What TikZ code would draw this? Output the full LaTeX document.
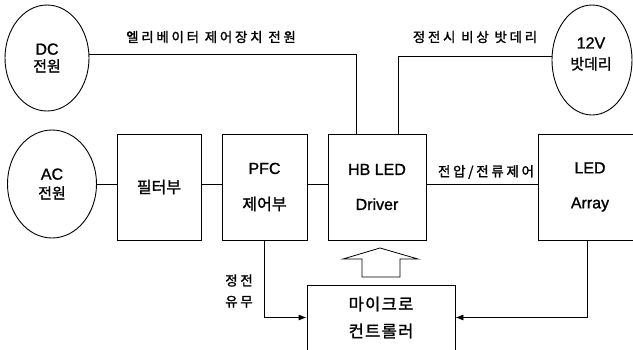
\documentclass[tikz,border=0pt]{standalone}
\usepackage{fontspec}
\setmainfont[FakeBold=1.2]{Liberation Sans}
\newfontfamily\ko[FakeBold=1.5]{Noto Sans CJK KR}
\newfontfamily\kosp[FakeBold=1.5,LetterSpace=20]{Noto Sans CJK KR}
\newfontfamily\komc[FakeBold=1.5,LetterSpace=8]{Noto Sans CJK KR}
\usetikzlibrary{shapes.geometric,arrows.meta}
\begin{document}
\begin{tikzpicture}[x=1pt,y=-1pt,line width=0.8pt,
  ell/.style={draw,ellipse,inner sep=0pt,align=center,line width=0.9pt,font=\fontsize{16}{18}\selectfont},
  blk/.style={draw,rectangle,inner sep=0pt,align=center,minimum height=106pt,font=\fontsize{16}{18}\selectfont},
  lbl/.style={inner sep=0pt,align=center,font=\kosp\fontsize{13.5}{15}\selectfont},
  arr/.style={-{Latex[length=8pt,width=6pt]}}]
\useasboundingbox (0,0) rectangle (633,349);
% sources
\node[ell,minimum width=84pt,minimum height=106pt] (dc) at (47,58) {DC\\[-1pt]{\ko\fontsize{15}{18}\selectfont 전원}};
\node[ell,minimum width=89pt,minimum height=108pt] (ac) at (52,184) {AC\\[1pt]{\ko\fontsize{15}{18}\selectfont 전원}};
\node[ell,minimum width=80pt,minimum height=110pt] (bat) at (592,60) {};
\node[inner sep=0pt,align=center,font=\fontsize{16}{18}\selectfont] (battxt) at (591,54) {12V\\[3pt]{\ko\fontsize{15}{18}\selectfont 밧데리}};
% blocks
\node[blk,minimum width=84pt] (flt) at (159,187) {\ko\fontsize{16}{18}\selectfont 필터부};
\node[blk,minimum width=85pt] (pfc) at (264.5,187) {PFC\\[18pt]{\ko 제어부}};
\node[blk,minimum width=98pt] (hb) at (377,187) {HB LED\\[17pt]Driver};
\node[blk,minimum width=104pt] (led) at (590,187) {LED\\[17pt]Array};
\node[draw,rectangle,inner sep=0pt,align=center,minimum width=148pt,minimum height=65pt,font=\komc\fontsize{16.5}{18}\selectfont] (mc) at (381,317.5) {마이크로\\[9pt]컨트롤러};
% labels
\node[lbl] (l1) at (211,37) {엘리베이터 제어장치 전원};
\node[lbl] (l2) at (475,37) {정전시 비상 밧데리};
\node[lbl] (l3) at (486,172) {전압/전류제어};
\node[lbl] (l4) at (239,291) {정전\\[6pt]유무};
% connectors
\coordinate (hbA) at (356,134);
\coordinate (hbB) at (398,134);
\coordinate (ledS) at (587,240);
\draw (dc.5) -- (dc.5 -| hbA) -- (hbA);
\draw (bat.175) -- (bat.175 -| hbB) -- (hbB);
\draw (ac.east) -- (ac.east -| flt.west);
\draw (flt.east |- ac.east) -- (pfc.west |- ac.east);
\draw (pfc.east |- ac.east) -- (hb.west |- ac.east);
\draw (hb.east |- ac.east) -- (led.west |- ac.east);
\draw[arr] (pfc.south) |- (mc.west);
\draw[arr] (ledS) |- (mc.east);
% hollow arrow
\draw[fill=white] (362,277) -- (362,259) -- (343,259) -- (380,248) -- (418,259) -- (400,259) -- (400,277) -- cycle;
\end{tikzpicture}
\end{document}
